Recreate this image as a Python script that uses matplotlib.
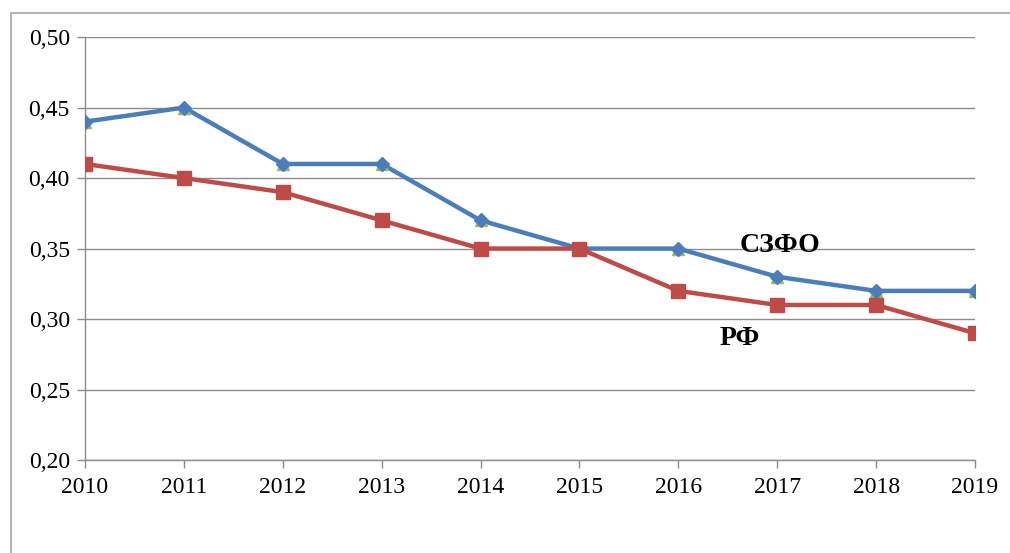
import matplotlib
matplotlib.use("Agg")
import matplotlib.pyplot as plt
from matplotlib.patches import Rectangle

years = [2010, 2011, 2012, 2013, 2014, 2015, 2016, 2017, 2018, 2019]
szfo = [0.44, 0.45, 0.41, 0.41, 0.37, 0.35, 0.35, 0.33, 0.32, 0.32]
rf = [0.41, 0.40, 0.39, 0.37, 0.35, 0.35, 0.32, 0.31, 0.31, 0.29]
yticks = [0.20, 0.25, 0.30, 0.35, 0.40, 0.45, 0.50]

plt.rcParams['font.family'] = ['Liberation Serif', 'DejaVu Serif']

fig = plt.figure(figsize=(10.10, 5.53), dpi=100)
ax = fig.add_axes([0.0842, 0.168, 0.8811, 0.765])

# outer chart frame (cut off at right and bottom)
fig.patches.append(Rectangle((11 / 1010, -0.05), 1.1, 1 - 13 / 553 + 0.05,
                             transform=fig.transFigure, fill=False,
                             edgecolor='#b4b4b4', linewidth=1.5))

ax.plot(years, szfo, color='#4a7ebb', linewidth=3.2, zorder=3)
ax.plot(years, szfo, linestyle='none', marker='^', markersize=9,
        color='#9bbb59', zorder=4)
ax.plot(years, szfo, linestyle='none', marker='D', markersize=7,
        color='#4a7ebb', zorder=5)
ax.plot(years, rf, color='#be4b48', linewidth=3.2, marker='s', markersize=10,
        zorder=6)

ax.text(2017.03, 0.3525, 'СЗФО', fontsize=20, fontweight='bold',
        ha='center', va='center', zorder=7)
ax.text(2016.62, 0.2865, 'РФ', fontsize=20, fontweight='bold',
        ha='center', va='center', zorder=7)

ax.set_xlim(2010, 2019)
ax.set_ylim(0.20, 0.50)
ax.set_xticks(years)
ax.set_xticklabels([str(y) for y in years])
ax.set_yticks(yticks)
ax.set_yticklabels([f'{v:.2f}'.replace('.', ',') for v in yticks])
ax.grid(axis='y', color='#8c8c8c', linewidth=1)
ax.set_axisbelow(True)
for s in ['top', 'right']:
    ax.spines[s].set_visible(False)
for s in ['left', 'bottom']:
    ax.spines[s].set_color('#8c8c8c')
    ax.spines[s].set_linewidth(1)
ax.tick_params(axis='both', colors='#8c8c8c', labelcolor='black',
               labelsize=17, length=6, width=1, direction='out')
ax.tick_params(axis='x', pad=6)
ax.tick_params(axis='y', pad=5)

fig.savefig('out.png', dpi=100)
